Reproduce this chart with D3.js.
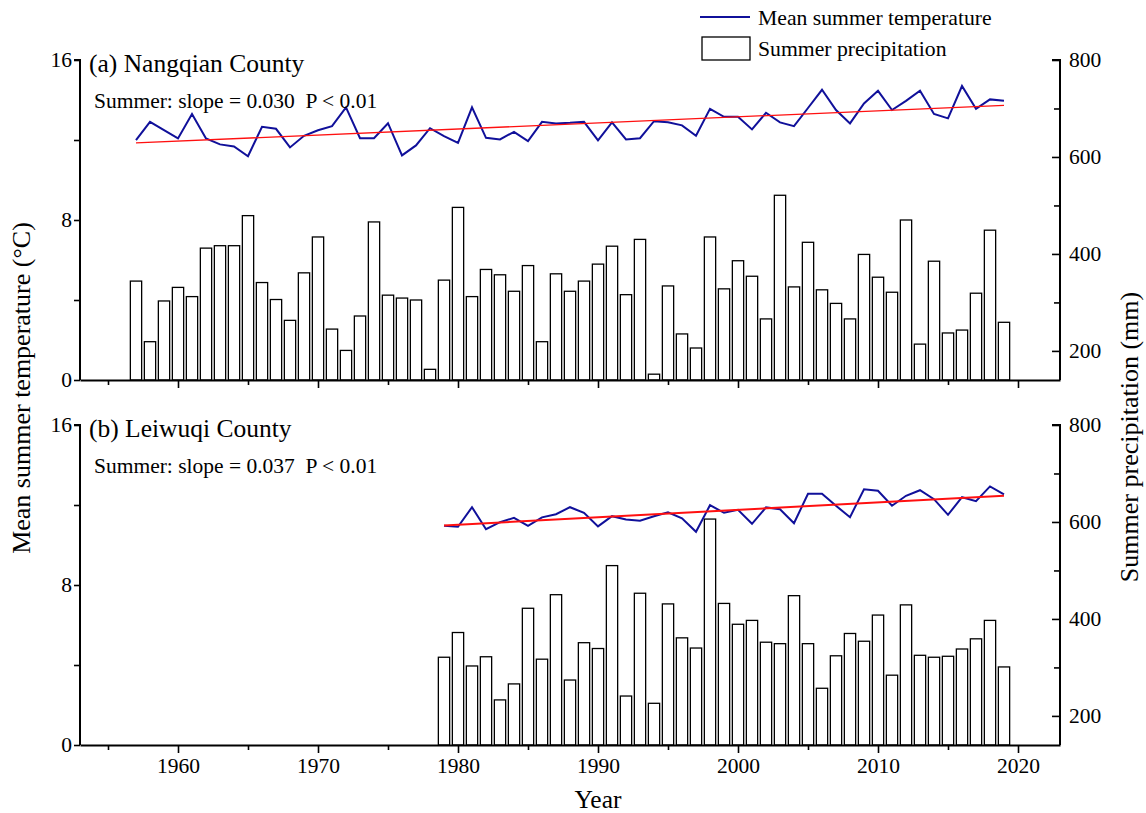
<!DOCTYPE html>
<meta charset="utf-8">
<script src="https://d3js.org/d3.v7.min.js"></script>
<style>
  body { margin: 0; background: #fff; }
  text { font-family: "Liberation Serif", "Times New Roman", serif; fill: #000; white-space: pre; }
</style>
<body>
<svg width="1146" height="813"></svg>
<script>
    // Nangqian County (a), 1957-2019
    var yearsA   = d3.range(1957, 2020);
    var tempA    = [11.99, 12.91, 12.49, 12.08, 13.30, 12.08, 11.78, 11.68, 11.19, 12.66,
                    12.56, 11.63, 12.21, 12.49, 12.69, 13.63, 12.09, 12.09, 12.84, 11.23,
                    11.73, 12.59, 12.19, 11.86, 13.63, 12.11, 12.03, 12.41, 11.94, 12.91,
                    12.83, 12.86, 12.91, 11.98, 12.88, 12.03, 12.09, 12.94, 12.89, 12.73,
                    12.21, 13.56, 13.16, 13.16, 12.53, 13.36, 12.88, 12.69, 13.60, 14.51,
                    13.50, 12.83, 13.83, 14.46, 13.50, 13.96, 14.46, 13.30, 13.08, 14.70,
                    13.56, 14.03, 13.96];
    var precipA  = [344, 219, 303, 331, 312, 412, 417, 417, 479, 341,
                    306, 263, 361, 435, 245, 201, 272, 466, 315, 309,
                    305, 162, 346, 496, 312, 368, 357, 323, 376, 219,
                    359, 323, 344, 379, 416, 316, 430, 152, 334, 235,
                    206, 435, 328, 386, 354, 266, 521, 332, 424, 326,
                    298, 266, 399, 352, 321, 470, 214, 385, 237, 243,
                    319, 449, 259];

    // Leiwuqi County (b), 1979-2019
    var yearsB   = d3.range(1979, 2020);
    var tempB    = [10.96, 10.91, 11.89, 10.79, 11.14, 11.36, 10.96, 11.38, 11.54, 11.89,
                    11.61, 10.93, 11.44, 11.28, 11.21, 11.44, 11.63, 11.33, 10.66, 11.99,
                    11.61, 11.76, 11.06, 11.88, 11.79, 11.09, 12.56, 12.56, 11.96, 11.39,
                    12.79, 12.71, 11.96, 12.46, 12.74, 12.29, 11.51, 12.39, 12.19, 12.93,
                    12.53];
    var precipB  = [321, 372, 303, 322, 233, 266, 422, 317, 450, 274,
                    351, 339, 510, 241, 453, 226, 431, 361, 340, 606,
                    432, 389, 397, 352, 349, 448, 349, 257, 324, 370,
                    354, 408, 284, 429, 325, 321, 323, 338, 359, 397,
                    301];

    var tempTicks   = [0, 4, 8, 12, 16];
    var precipTicks = [200, 300, 400, 500, 600, 700, 800];
    var yearTicks   = d3.range(1955, 2021, 5);

    var panels = [
        {title: '(a) Nangqian County', note: 'Summer: slope = 0.030  P < 0.01', years: yearsA, temp: tempA, precip: precipA, top: 60,  trendW: 1.3, last: false},
        {title: '(b) Leiwuqi County',  note: 'Summer: slope = 0.037  P < 0.01', years: yearsB, temp: tempB, precip: precipB, top: 425, trendW: 2,   last: true}
    ];

    var svg   = d3.select('svg');
    var left  = 80, right = 1060, ph = 320;
    var x     = d3.scaleLinear().domain([1953, 2023]).range([left, right]);
    var barW  = 11.3;

    function fit(xs, ys){
        var mx = d3.mean(xs), my = d3.mean(ys);
        var b = d3.sum(xs, function(v, i){ return (v - mx) * (ys[i] - my); }) / d3.sum(xs, function(v){ return (v - mx) * (v - mx); });
        return {b: b, a: my - b * mx};
    }

    panels.forEach(function(p){
        var bottom = p.top + ph;
        var yT = d3.scaleLinear().domain([0, 16]).range([bottom, p.top]);
        var yP = d3.scaleLinear().domain([140, 800]).range([bottom, p.top]);
        var g = svg.append('g');

        // bars
        g.selectAll('rect.bar').data(p.precip).enter().append('rect')
            .attr('class', 'bar')
            .attr('x', function(d, i){ return x(p.years[i]) - barW / 2; })
            .attr('y', function(d){ return yP(d); })
            .attr('width', barW)
            .attr('height', function(d){ return bottom - yP(d); })
            .attr('fill', '#fff')
            .attr('stroke', '#000')
            .attr('stroke-width', 1.3);

        // temperature line
        var line = d3.line().x(function(d, i){ return x(p.years[i]); }).y(function(d){ return yT(d); });
        g.append('path').datum(p.temp)
            .attr('d', line)
            .attr('fill', 'none')
            .attr('stroke', '#10109a')
            .attr('stroke-width', 2);

        // linear trend
        var f = fit(p.years, p.temp);
        var ends = [p.years[0], p.years[p.years.length - 1]];
        g.append('path').datum(ends)
            .attr('d', d3.line().x(function(d){ return x(d); }).y(function(d){ return yT(f.a + f.b * d); }))
            .attr('stroke', '#ff1010')
            .attr('stroke-width', p.trendW)
            .attr('fill', 'none');

        // axes
        var axL = d3.axisLeft(yT).tickValues(tempTicks).tickSize(6).tickSizeOuter(0)
            .tickFormat(function(d){ return d % 8 === 0 ? d : ''; });
        var gl = g.append('g').attr('transform', 'translate(' + left + ',0)').call(axL);
        gl.selectAll('.tick text').attr('x', -8);

        var axR = d3.axisRight(yP).tickValues(precipTicks).tickSize(-8).tickSizeOuter(0)
            .tickFormat(function(d){ return d % 200 === 0 ? d : ''; });
        var gr = g.append('g').attr('transform', 'translate(' + right + ',0)').call(axR);
        gr.selectAll('.tick line').attr('x2', function(d){ return d % 200 === 0 ? -8 : -6; });
        gr.selectAll('.tick text').attr('x', 9);

        var axB = d3.axisBottom(x).tickValues(yearTicks).tickSize(8).tickSizeOuter(0)
            .tickFormat(function(d){ return (p.last && d % 10 === 0) ? d : ''; });
        var gb = g.append('g').attr('transform', 'translate(0,' + bottom + ')').call(axB);
        gb.selectAll('.tick line').attr('y2', function(d){ return d % 10 === 0 ? 8 : 5; });
        gb.selectAll('.tick text').attr('y', 13);

        [gl, gr, gb].forEach(function(a){
            a.select('.domain').attr('stroke', '#000').attr('stroke-width', 2);
            a.selectAll('.tick line').attr('stroke', '#000').attr('stroke-width', 1.6);
            a.selectAll('.tick text').style('font-family', '"Liberation Serif", serif').style('font-size', '21.5px');
        });
        gl.select('.domain').attr('d', 'M0,' + bottom + 'V' + p.top + 'H-6');
        gr.select('.domain').attr('d', 'M0,' + bottom + 'V' + p.top + 'H-8');

        g.append('text').attr('x', 89).attr('y', p.top + 12)
            .style('font-size', '25.5px').text(p.title);
        g.append('text').attr('x', 94).attr('y', p.top + 48)
            .style('font-size', '21.5px').text(p.note);
    });

    // axis titles
    svg.append('text').attr('transform', 'translate(30,388) rotate(-90)').attr('text-anchor', 'middle')
        .style('font-size', '26px').text('Mean summer temperature (°C)');
    svg.append('text').attr('transform', 'translate(1138,437) rotate(-90)').attr('text-anchor', 'middle')
        .style('font-size', '26px').text('Summer precipitation (mm)');
    svg.append('text').attr('x', 598).attr('y', 808).attr('text-anchor', 'middle')
        .style('font-size', '25.5px').text('Year');

    // legend
    var lg = svg.append('g');
    lg.append('line').attr('x1', 700).attr('x2', 750).attr('y1', 17).attr('y2', 17)
        .attr('stroke', '#10109a').attr('stroke-width', 2);
    lg.append('text').attr('x', 758).attr('y', 25).style('font-size', '21.7px').text('Mean summer temperature');
    lg.append('rect').attr('x', 702).attr('y', 37).attr('width', 48).attr('height', 23)
        .attr('fill', '#fff').attr('stroke', '#000').attr('stroke-width', 1.3);
    lg.append('text').attr('x', 758).attr('y', 56).style('font-size', '21.7px').text('Summer precipitation');
</script>
</body>
